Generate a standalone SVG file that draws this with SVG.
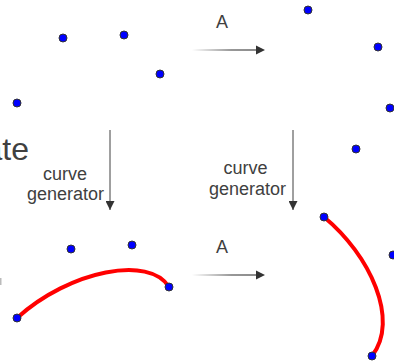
<svg xmlns="http://www.w3.org/2000/svg" width="394" height="362" viewBox="0 0 394 362">
<defs>
<linearGradient id="fade" x1="0" y1="0" x2="1" y2="0">
<stop offset="0" stop-color="#404040" stop-opacity="0"/>
<stop offset="0.6" stop-color="#404040" stop-opacity="0.9"/>
<stop offset="1" stop-color="#404040"/>
</linearGradient>
<marker id="ah" viewBox="0 0 10 10" refX="10" refY="5" markerWidth="9" markerHeight="9" markerUnits="userSpaceOnUse" orient="auto">
<path d="M0,0 L10,5 L0,10 z" fill="#333"/>
</marker>
<style>
.pt{fill:#0000ff;stroke:#333;stroke-width:1}
.lbl{font-family:"Liberation Sans",Arial,sans-serif;fill:#404040;font-size:18px;text-anchor:middle}
.big{font-family:"Liberation Sans",Arial,sans-serif;fill:#404040;font-size:32px;text-anchor:end}
.v{stroke:#404040;stroke-width:1;fill:none}
.h{stroke:url(#fade);stroke-width:1.2;fill:none}
.crv{stroke:#ff0000;stroke-width:4;fill:none;stroke-linecap:round}
</style>
</defs>
<g id="connectors">
<rect x="192" y="49.4" width="66" height="1.2" fill="url(#fade)"/>
<path d="M256,45.5 L265,50 L256,54.5 z" fill="#333"/>
<rect x="192" y="274.4" width="66" height="1.2" fill="url(#fade)"/>
<path d="M256,270.5 L265,275 L256,279.5 z" fill="#333"/>
<line class="v" x1="110" y1="130" x2="110" y2="210" marker-end="url(#ah)"/>
<line class="v" x1="293" y1="130" x2="293" y2="210" marker-end="url(#ah)"/>
</g>
<g id="labels">
<text class="lbl" x="222" y="28">A</text>
<text class="lbl" x="222" y="253">A</text>
<text class="lbl" x="65" y="180">curve</text>
<text class="lbl" x="65.5" y="200">generator</text>
<text class="lbl" x="245.5" y="174">curve</text>
<text class="lbl" x="247.5" y="195">generator</text>
<text class="big" x="29" y="160">ate</text>
</g>
<g id="curves">
<path class="crv" d="M17,318 C70,270 150,255 169,287"/>
<path class="crv" d="M324,217 C370,255 400,320 372,356"/>
</g>
<g id="points">
<circle class="pt" cx="63" cy="38" r="4"/>
<circle class="pt" cx="124" cy="35" r="4"/>
<circle class="pt" cx="160" cy="74" r="4"/>
<circle class="pt" cx="17" cy="103" r="4"/>
<circle class="pt" cx="308" cy="10" r="4"/>
<circle class="pt" cx="378" cy="47" r="4"/>
<circle class="pt" cx="390" cy="108" r="4"/>
<circle class="pt" cx="356" cy="149" r="4"/>
<circle class="pt" cx="71" cy="249" r="4"/>
<circle class="pt" cx="132" cy="245" r="4"/>
<circle class="pt" cx="169" cy="287" r="4"/>
<circle class="pt" cx="17" cy="318" r="4"/>
<circle class="pt" cx="324" cy="217" r="4"/>
<circle class="pt" cx="372" cy="356" r="4"/>
<circle class="pt" cx="393" cy="255" r="4"/>
</g>
<rect x="0" y="278" width="1.5" height="7" fill="#bbb"/>
</svg>
